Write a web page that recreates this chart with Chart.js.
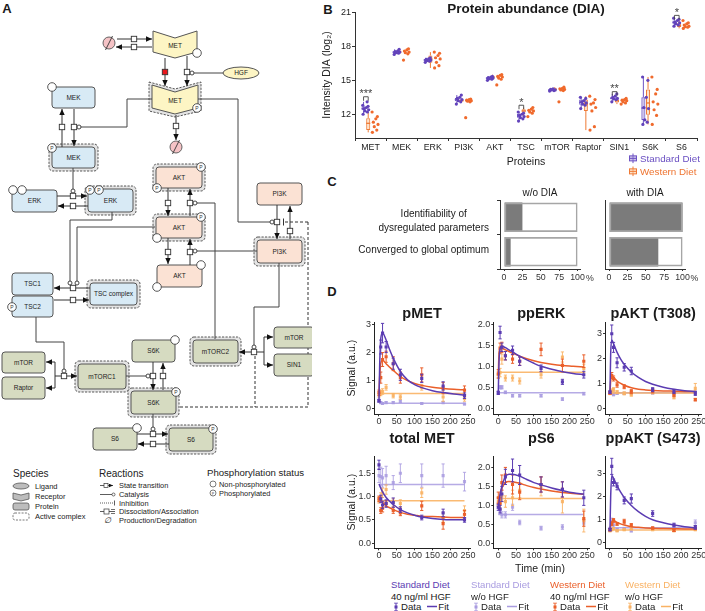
<!DOCTYPE html>
<html>
<head>
<meta charset="utf-8">
<script src="https://cdn.jsdelivr.net/npm/chart.js@4.4.0/dist/chart.umd.min.js"></script>
<style>
body { margin: 0; background: #fff; font-family: "Liberation Sans", Arial, sans-serif; }
#fig { position: relative; width: 705px; height: 611px; overflow: hidden; }
#fig canvas { position: absolute; }
.t { position: absolute; white-space: nowrap; color: #1a1a1a; line-height: 1.15; }
.pl { font-weight: bold; font-size: 13px; }
.dt { font-weight: bold; font-size: 14.5px; }
</style>
</head>
<body>
<div id="fig"></div>
<script>
// ---------------- B: protein abundance (log2 DIA intensity) ----------------
const proteins = ['MET', 'MEK', 'ERK', 'PI3K', 'AKT', 'TSC', 'mTOR', 'Raptor', 'SIN1', 'S6K', 'S6'];
const bTicks = [12, 15, 18, 21];
const sdQ1  = [12.35, 17.42, 16.72, 13.15, 15.12, 11.7, 14.1, 12.85, 13.32, 11.5, 20.0];
const sdMed = [12.5, 17.5, 16.8, 13.3, 15.2, 11.85, 14.15, 13.05, 13.4, 12.55, 20.12];
const sdQ3  = [12.7, 17.58, 16.88, 13.45, 15.28, 12.05, 14.2, 13.3, 13.55, 13.5, 20.3];
const sdLo  = [12.0, 17.3, 16.6, 12.9, 15.0, 11.4, 14.05, 12.5, 13.1, 11.1, 19.8];
const sdHi  = [13.1, 17.75, 17.0, 13.7, 15.35, 12.2, 14.25, 13.5, 13.8, 15.3, 20.5];
const wdQ1  = [10.6, 17.4, 16.55, 13.12, 15.15, 12.15, 14.12, 12.3, 13.05, 11.95, 19.72];
const wdMed = [11.2, 17.5, 16.9, 13.2, 15.3, 12.3, 14.2, 12.9, 13.2, 13.0, 19.85];
const wdQ3  = [11.65, 17.65, 17.2, 13.3, 15.4, 12.45, 14.3, 13.3, 13.3, 14.2, 20.05];
const wdLo  = [10.4, 17.35, 16.1, 13.1, 15.1, 11.8, 14.1, 10.6, 12.9, 11.1, 19.6];
const wdHi  = [12.2, 17.8, 17.5, 13.35, 15.5, 12.6, 14.4, 13.6, 13.4, 15.3, 20.3];
const sdPts = [
  [12.0, 12.2, 12.3, 12.4, 12.5, 12.6, 12.7, 12.8, 13.1],
  [17.3, 17.4, 17.45, 17.5, 17.55, 17.6, 17.75],
  [16.6, 16.7, 16.75, 16.8, 16.85, 16.9, 17.0],
  [12.9, 13.1, 13.2, 13.3, 13.4, 13.5, 13.7],
  [15.0, 15.1, 15.15, 15.2, 15.25, 15.3, 15.35],
  [11.4, 11.6, 11.7, 11.8, 11.9, 12.0, 12.1, 12.2],
  [14.05, 14.1, 14.15, 14.15, 14.2, 14.25],
  [12.5, 12.8, 12.9, 13.0, 13.1, 13.2, 13.4, 13.5],
  [13.1, 13.3, 13.35, 13.4, 13.5, 13.6, 13.8],
  [11.1, 11.3, 11.5, 12.5, 12.6, 13.5, 15.0, 15.3],
  [19.8, 19.9, 20.0, 20.1, 20.15, 20.3, 20.4, 20.5]
];
const wdPts = [
  [10.4, 10.6, 10.9, 11.1, 11.3, 11.6, 11.8, 12.2],
  [16.8, 17.35, 17.45, 17.5, 17.6, 17.7, 17.8],
  [16.1, 16.3, 16.6, 16.9, 17.0, 17.2, 17.4, 17.5],
  [11.7, 13.1, 13.15, 13.2, 13.25, 13.3, 13.35],
  [14.6, 15.1, 15.2, 15.3, 15.35, 15.45, 15.5],
  [11.8, 12.1, 12.2, 12.3, 12.35, 12.45, 12.6],
  [13.1, 14.1, 14.15, 14.2, 14.25, 14.3, 14.4],
  [10.6, 10.9, 12.3, 12.6, 12.9, 13.0, 13.3, 13.6],
  [12.9, 13.0, 13.1, 13.2, 13.25, 13.3, 13.4],
  [11.1, 11.9, 12.4, 12.9, 13.1, 13.8, 14.2, 15.3],
  [19.6, 19.7, 19.75, 19.8, 19.9, 20.0, 20.1, 20.3]
];
const sigStars = ['***', '', '', '', '', '*', '', '', '**', '', '*'];
const sigY     = [13.55, 0, 0, 0, 0, 12.8, 0, 0, 14.0, 0, 20.75];

// ---------------- C: parameter estimation summary (%) ----------------
const cRows = ['Identifiability of dysregulated parameters', 'Converged to global optimum'];
const cWithout = [25, 9];
const cWith = [100, 67];
const cTicks = [0, 25, 50, 75, 100];

// ---------------- D: time courses ----------------
const T = [0, 5, 10, 20, 40, 60, 120, 180, 240];
const fitT = [0, 2, 5, 10, 20, 30, 40, 60, 80, 100, 120, 150, 180, 210, 240];
const dXTicks = [0, 50, 100, 150, 200, 250];

const pMET_sd = [0.27, 2.2, 2.7, 2.2, 1.6, 1.2, 1.07, 0.8, 0.45];
const pMET_sdErr = [0.05, 0.25, 0.35, 0.2, 0.2, 0.2, 0.15, 0.15, 0.1];
const pMET_sdn = [0.25, 0.2, 0.17, 0.2, 0.2, 0.25, 0.17, 0.2, 0.15];
const pMET_sdnErr = [0.03, 0.03, 0.03, 0.03, 0.03, 0.05, 0.03, 0.03, 0.03];
const pMET_wd = [0.55, 1.1, 1.75, 1.85, 1.6, 1.1, 1.2, 0.72, 0.65];
const pMET_wdErr = [0.1, 0.2, 0.25, 0.2, 0.25, 0.2, 0.25, 0.2, 0.15];
const pMET_wdn = [0.5, 0.55, 0.6, 0.75, 0.45, 0.4, 0.75, 0.4, 0.35];
const pMET_wdnErr = [0.1, 0.1, 0.1, 0.1, 0.08, 0.08, 0.1, 0.15, 0.1];
const pMET_sdFit = [0.25, 1.6, 2.5, 2.7, 2.45, 2.1, 1.8, 1.32, 1.02, 0.85, 0.74, 0.63, 0.56, 0.51, 0.47];
const pMET_wdFit = [0.55, 1.15, 1.6, 1.72, 1.6, 1.47, 1.36, 1.14, 0.99, 0.89, 0.82, 0.75, 0.71, 0.68, 0.66];
const pMET_flat = [0.18, 0.53];

const ppERK_sd = [0.37, 1.8, 1.45, 1.25, 1.38, 1.12, 0.95, 0.63, 0.8];
const ppERK_sdErr = [0.04, 0.15, 0.1, 0.1, 0.1, 0.1, 0.08, 0.06, 0.08];
const ppERK_sdn = [0.37, 0.5, 0.5, 0.38, 0.3, 0.3, 0.3, 0.22, 0.35];
const ppERK_sdnErr = [0.03, 0.04, 0.04, 0.03, 0.03, 0.03, 0.03, 0.03, 0.03];
const ppERK_wd = [0.82, 1.43, 1.45, 1.25, 1.17, 1.12, 1.4, 1.02, 1.12];
const ppERK_wdErr = [0.1, 0.12, 0.12, 0.1, 0.1, 0.1, 0.15, 0.15, 0.15];
const ppERK_wdn = [0.8, 0.85, 1.17, 0.72, 0.72, 0.65, 0.8, 1.22, 0.95];
const ppERK_wdnErr = [0.08, 0.1, 0.12, 0.07, 0.07, 0.07, 0.08, 0.12, 0.1];
const ppERK_sdFit = [0.37, 1.1, 1.42, 1.48, 1.44, 1.39, 1.34, 1.24, 1.15, 1.07, 1.0, 0.93, 0.87, 0.83, 0.8];
const ppERK_wdFit = [0.82, 1.3, 1.44, 1.43, 1.39, 1.35, 1.31, 1.24, 1.18, 1.13, 1.09, 1.05, 1.02, 1.0, 0.98];
const ppERK_flat = [0.37, 0.86];

const pAKT_sd = [0.65, 3.0, 2.45, 1.83, 1.65, 1.5, 0.75, 0.68, 0.6];
const pAKT_sdErr = [0.05, 0.35, 0.2, 0.2, 0.15, 0.15, 0.08, 0.08, 0.08];
const pAKT_sdn = [0.65, 0.6, 0.55, 0.6, 0.6, 0.62, 0.62, 0.6, 0.65];
const pAKT_sdnErr = [0.04, 0.04, 0.04, 0.04, 0.04, 0.04, 0.04, 0.04, 0.04];
const pAKT_wd = [0.62, 1.32, 1.2, 0.95, 0.87, 0.67, 0.7, 0.55, 0.35];
const pAKT_wdErr = [0.05, 0.12, 0.1, 0.1, 0.08, 0.08, 0.08, 0.08, 0.05];
const pAKT_wdn = [0.6, 0.7, 0.75, 0.65, 0.6, 0.55, 0.65, 0.45, 0.8];
const pAKT_wdnErr = [0.05, 0.08, 0.08, 0.06, 0.06, 0.06, 0.07, 0.07, 0.2];
const pAKT_sdFit = [0.65, 2.2, 2.75, 2.6, 2.25, 1.98, 1.77, 1.46, 1.24, 1.08, 0.97, 0.85, 0.77, 0.71, 0.67];
const pAKT_wdFit = [0.62, 1.1, 1.32, 1.25, 1.1, 1.0, 0.93, 0.83, 0.77, 0.74, 0.72, 0.7, 0.69, 0.68, 0.68];
const pAKT_flat = [0.63, 0.62];

const tMET_sd = [1.68, 0.95, 0.82, 0.85, 0.87, 0.72, 0.55, 0.65, 0.5];
const tMET_sdErr = [0.1, 0.08, 0.08, 0.08, 0.1, 0.06, 0.05, 0.08, 0.05];
const tMET_sdn = [1.45, 1.43, 1.4, 1.45, 1.3, 1.5, 1.45, 1.45, 1.32];
const tMET_sdnErr = [0.15, 0.2, 0.2, 0.2, 0.15, 0.2, 0.25, 0.25, 0.2];
const tMET_wd = [0.95, 0.7, 0.75, 0.85, 0.7, 0.65, 0.8, 0.42, 0.62];
const tMET_wdErr = [0.06, 0.06, 0.08, 0.06, 0.06, 0.06, 0.1, 0.12, 0.08];
const tMET_wdn = [0.92, 1.0, 1.08, 1.15, 0.87, 0.85, 1.08, 0.55, 0.7];
const tMET_wdnErr = [0.06, 0.08, 0.1, 0.1, 0.08, 0.08, 0.1, 0.1, 0.1];
const tMET_sdFit = [1.27, 1.23, 1.18, 1.1, 0.98, 0.9, 0.83, 0.72, 0.65, 0.6, 0.56, 0.53, 0.51, 0.5, 0.5];
const tMET_wdFit = [1.0, 0.97, 0.93, 0.88, 0.8, 0.76, 0.72, 0.66, 0.62, 0.6, 0.58, 0.57, 0.56, 0.55, 0.55];
const tMET_flat = [1.26, 0.91];

const pS6_sd = [0.95, 0.9, 1.3, 1.75, 1.92, 1.8, 1.55, 1.42, 1.2];
const pS6_sdErr = [0.08, 0.1, 0.2, 0.2, 0.3, 0.25, 0.2, 0.2, 0.2];
const pS6_sdn = [1.0, 0.85, 0.75, 0.75, 0.95, 0.55, 0.4, 0.43, 0.55];
const pS6_sdnErr = [0.08, 0.08, 0.08, 0.08, 0.08, 0.06, 0.05, 0.06, 0.06];
const pS6_wd = [1.2, 1.05, 1.6, 1.8, 1.55, 1.35, 1.55, 1.42, 0.65];
const pS6_wdErr = [0.15, 0.15, 0.2, 0.2, 0.25, 0.2, 0.2, 0.2, 0.2];
const pS6_wdn = [1.1, 1.15, 1.25, 1.1, 1.2, 1.4, 1.5, 1.1, 0.6];
const pS6_wdnErr = [0.1, 0.1, 0.15, 0.15, 0.2, 0.2, 0.25, 0.3, 0.3];
const pS6_sdFit = [0.95, 1.08, 1.28, 1.5, 1.76, 1.82, 1.82, 1.77, 1.68, 1.6, 1.54, 1.46, 1.39, 1.33, 1.3];
const pS6_wdFit = [1.05, 1.15, 1.3, 1.45, 1.6, 1.63, 1.62, 1.58, 1.52, 1.47, 1.43, 1.38, 1.34, 1.31, 1.29];
const pS6_flat = [0.76, 1.18];

const ppAKT_sd = [0.55, 3.3, 2.6, 2.43, 1.82, 1.9, 1.25, 0.75, 0.65];
const ppAKT_sdErr = [0.05, 0.35, 0.15, 0.15, 0.15, 0.2, 0.12, 0.08, 0.08];
const ppAKT_sdn = [0.6, 0.9, 0.75, 0.55, 0.6, 0.5, 0.6, 0.65, 0.85];
const ppAKT_sdnErr = [0.05, 0.15, 0.1, 0.05, 0.05, 0.05, 0.05, 0.06, 0.12];
const ppAKT_wd = [0.55, 0.8, 0.95, 0.8, 0.9, 0.75, 0.62, 0.52, 0.6];
const ppAKT_wdErr = [0.05, 0.08, 0.08, 0.06, 0.1, 0.06, 0.05, 0.05, 0.05];
const ppAKT_wdn = [0.5, 0.55, 0.6, 0.5, 0.55, 0.6, 0.55, 0.5, 0.55];
const ppAKT_wdnErr = [0.04, 0.04, 0.04, 0.04, 0.04, 0.04, 0.04, 0.04, 0.04];
const ppAKT_sdFit = [0.55, 2.0, 2.9, 2.78, 2.45, 2.18, 1.95, 1.6, 1.33, 1.13, 0.98, 0.85, 0.75, 0.68, 0.63];
const ppAKT_wdFit = [0.55, 0.72, 0.88, 0.95, 0.86, 0.8, 0.75, 0.68, 0.65, 0.62, 0.61, 0.6, 0.59, 0.58, 0.58];
const ppAKT_flat = [0.63, 0.53];

const dPanels = [
  { title: 'pMET', col: 0, row: 0, yr: [-0.22, 3.1], yt: [0, 1, 2, 3], dec: 0,
    s: [pMET_sd, pMET_sdErr, pMET_sdn, pMET_sdnErr, pMET_wd, pMET_wdErr, pMET_wdn, pMET_wdnErr, pMET_sdFit, pMET_wdFit, pMET_flat] },
  { title: 'ppERK', col: 1, row: 0, yr: [-0.14, 2.05], yt: [0, 0.5, 1, 1.5, 2], dec: 1,
    s: [ppERK_sd, ppERK_sdErr, ppERK_sdn, ppERK_sdnErr, ppERK_wd, ppERK_wdErr, ppERK_wdn, ppERK_wdnErr, ppERK_sdFit, ppERK_wdFit, ppERK_flat] },
  { title: 'pAKT (T308)', col: 2, row: 0, yr: [-0.24, 3.47], yt: [0, 1, 2, 3], dec: 0,
    s: [pAKT_sd, pAKT_sdErr, pAKT_sdn, pAKT_sdnErr, pAKT_wd, pAKT_wdErr, pAKT_wdn, pAKT_wdnErr, pAKT_sdFit, pAKT_wdFit, pAKT_flat] },
  { title: 'total MET', col: 0, row: 1, yr: [-0.11, 1.87], yt: [0, 0.5, 1, 1.5], dec: 1,
    s: [tMET_sd, tMET_sdErr, tMET_sdn, tMET_sdnErr, tMET_wd, tMET_wdErr, tMET_wdn, tMET_wdnErr, tMET_sdFit, tMET_wdFit, tMET_flat] },
  { title: 'pS6', col: 1, row: 1, yr: [-0.13, 2.3], yt: [0, 0.5, 1, 1.5, 2], dec: 1,
    s: [pS6_sd, pS6_sdErr, pS6_sdn, pS6_sdnErr, pS6_wd, pS6_wdErr, pS6_wdn, pS6_wdnErr, pS6_sdFit, pS6_wdFit, pS6_flat] },
  { title: 'ppAKT (S473)', col: 2, row: 1, yr: [-0.26, 3.75], yt: [0, 1, 2, 3], dec: 0,
    s: [ppAKT_sd, ppAKT_sdErr, ppAKT_sdn, ppAKT_sdnErr, ppAKT_wd, ppAKT_wdErr, ppAKT_wdn, ppAKT_wdnErr, ppAKT_sdFit, ppAKT_wdFit, ppAKT_flat] }
];

// colours
const PUR = '#5b3cb2', PUR_L = '#a99ce0', ORA = '#ea5f2a', ORA_L = '#f9b264';

Chart.defaults.font.family = '"Liberation Sans", Arial, sans-serif';
Chart.defaults.color = '#333';
Chart.defaults.animation = false;
Chart.defaults.plugins.legend.display = false;
Chart.defaults.plugins.tooltip.enabled = false;

const fig = document.getElementById('fig');

function txt(x, y, html, css, anchor) {
  const d = document.createElement('div');
  d.className = 't';
  d.innerHTML = html;
  if (css) d.style.cssText = css;
  d.style.left = x + 'px';
  d.style.top = y + 'px';
  const tx = anchor === 'l' ? '0' : anchor === 'r' ? '-100%' : '-50%';
  d.style.transform = `translate(${tx},-50%)`;
  fig.appendChild(d);
  return d;
}

// canvas rect [left, top, w, h], plot area [left, top, right, bottom] in page px
function mkChart(rect, area, yW, xH, cfg) {
  const c = document.createElement('canvas');
  c.width = rect[2]; c.height = rect[3];
  c.style.left = rect[0] + 'px'; c.style.top = rect[1] + 'px';
  fig.appendChild(c);
  cfg.options.responsive = false;
  cfg.options.layout = { padding: {
    left: area[0] - rect[0] - yW, top: area[1] - rect[1],
    right: rect[0] + rect[2] - area[2], bottom: rect[1] + rect[3] - area[3] - xH } };
  return new Chart(c, cfg);
}
const fixW = w => s => { s.width = w; s.paddingTop = 0; s.paddingBottom = 0; };
const fixH = h => s => { s.height = h; s.paddingLeft = 0; s.paddingRight = 0; };
const axisGrid = len => ({ drawOnChartArea: false, tickLength: len, color: '#333', lineWidth: 1 });

// ---------- panel A: pathway diagram (static SVG) ----------
const YEL = '#fdf5c4', BLU = '#d8eaf5', SAL = '#fbe2d4', OLV = '#d6dbc1';
const A = [];
function box(x, y, w, h, fill, label, active) {
  if (active) A.push(`<rect x="${x - 3}" y="${y - 3}" width="${w + 6}" height="${h + 6}" rx="4" fill="#e4e4e4" stroke="#444" stroke-width="0.9" stroke-dasharray="2.2 1.3"/>`);
  A.push(`<rect x="${x}" y="${y}" width="${w}" height="${h}" rx="3" fill="${fill}" stroke="#555" stroke-width="1"/>`);
  A.push(`<text x="${x + w / 2}" y="${y + h / 2 + 2.3}" font-size="6.5" text-anchor="middle" fill="#222">${label}</text>`);
}
function receptor(x, y, w, h, label, active) {
  const p = d => `M${x - d},${y - d} L${x + w / 2},${y + 7 - d} L${x + w + d},${y - d} L${x + w + d},${y + h - 6 + d} L${x + w / 2},${y + h + d} L${x - d},${y + h - 6 + d} Z`;
  if (active) A.push(`<path d="${p(3)}" fill="#e4e4e4" stroke="#444" stroke-width="0.9" stroke-dasharray="2.2 1.3"/>`);
  A.push(`<path d="${p(0)}" fill="${YEL}" stroke="#555" stroke-width="1"/>`);
  A.push(`<text x="${x + w / 2}" y="${y + h / 2 + 3.5}" font-size="6.5" text-anchor="middle" fill="#222">${label}</text>`);
}
function ln(pts, o = {}) {
  const d = 'M' + pts.map(p => p.join(',')).join(' L');
  A.push(`<path d="${d}" fill="none" stroke="${o.c || '#333'}" stroke-width="${o.w || 1}"${o.dash ? ` stroke-dasharray="${o.dash}"` : ''}${o.arrow ? ' marker-end="url(#ah)"' : ''}/>`);
  if (o.cat) { const [cx, cy] = pts[pts.length - 1]; A.push(`<circle cx="${cx}" cy="${cy}" r="2" fill="#fff" stroke="#333" stroke-width="0.9"/>`); }
}
const sq = (x, y, f) => A.push(`<rect x="${x - 2.7}" y="${y - 2.7}" width="5.4" height="5.4" fill="${f || '#fff'}" stroke="#333" stroke-width="0.9"/>`);
const circ = (x, y) => A.push(`<circle cx="${x}" cy="${y}" r="4.3" fill="#fff" stroke="#444" stroke-width="0.9"/>`);
const pcirc = (x, y) => { circ(x, y); A.push(`<text x="${x}" y="${y + 1.8}" font-size="5" text-anchor="middle" fill="#333">P</text>`); };
const deg = (x, y) => A.push(`<circle cx="${x}" cy="${y}" r="6" fill="#f5c3c6" stroke="#555" stroke-width="0.9"/><line x1="${x - 3.5}" y1="${y + 7}" x2="${x + 3.5}" y2="${y - 7}" stroke="#333" stroke-width="0.9"/>`);

// dashed inhibition routes (behind)
ln([[308, 222], [308, 407], [178, 407]], { dash: '3 2' });
ln([[255, 356], [255, 407]], { dash: '3 2' });
ln([[308, 222], [284, 222]], { dash: '3 2' });
A.push('<line x1="283.5" y1="218.5" x2="283.5" y2="225.5" stroke="#333" stroke-width="1"/>');
// species
receptor(153, 31, 44, 27, 'MET', false);
receptor(152, 85, 46, 29, 'MET', true);
A.push(`<ellipse cx="241" cy="73" rx="18" ry="6" fill="${YEL}" stroke="#555"/><text x="241" y="75.3" font-size="6.5" text-anchor="middle" fill="#222">HGF</text>`);
box(52, 87, 43, 21, BLU, 'MEK'); box(52, 147, 43, 21, BLU, 'MEK', true);
box(12, 190, 45, 22, BLU, 'ERK'); box(88, 189, 45, 23, BLU, 'ERK', true);
box(156, 167, 46, 21, SAL, 'AKT', true); box(156, 217, 46, 21, SAL, 'AKT', true); box(157, 265, 45, 22, SAL, 'AKT');
box(257, 183, 45, 22, SAL, 'PI3K'); box(257, 240, 45, 23, SAL, 'PI3K', true);
box(12, 273, 41, 22, BLU, 'TSC1'); box(12, 296, 41, 21, BLU, 'TSC2'); box(90, 283, 47, 22, BLU, 'TSC complex', true);
box(2, 352, 43, 21, OLV, 'mTOR'); box(2, 377, 43, 22, OLV, 'Raptor'); box(78, 364, 48, 25, OLV, 'mTORC1', true);
box(132, 340, 43, 22, OLV, 'S6K'); box(131, 391, 45, 23, OLV, 'S6K', true);
box(93, 428, 44, 22, OLV, 'S6'); box(169, 428, 44, 23, OLV, 'S6', true);
box(193, 340, 45, 23, OLV, 'mTORC2', true); box(274, 327, 40, 21, OLV, 'mTOR'); box(274, 354, 40, 22, OLV, 'SIN1');
deg(109, 43); deg(176, 147);
// transitions
const arrows = [
  [[117, 39], [152, 39]], [[152, 47], [116, 47]], [[165, 58], [165, 86]], [[187, 56], [187, 86]], [[176, 115], [176, 140]],
  [[62, 147], [62, 109]], [[74, 109], [74, 146]], [[57, 196], [87, 196]], [[88, 206], [58, 206]],
  [[168, 188], [168, 216]], [[190, 216], [190, 189]], [[168, 238], [168, 264]], [[190, 265], [190, 239]],
  [[277, 205], [277, 239]], [[290, 239], [290, 206]], [[90, 288], [54, 288]], [[54, 300], [89, 300]],
  [[64, 376], [55, 376], [55, 362], [46, 362]], [[55, 376], [55, 388], [46, 388]], [[64, 376], [77, 376]],
  [[153, 362], [153, 390]], [[163, 390], [163, 363]], [[137, 434], [168, 434]], [[169, 444], [138, 444]],
  [[254, 352], [239, 352]], [[254, 352], [264, 352], [264, 337], [273, 337]], [[264, 352], [264, 365], [273, 365]]
];
arrows.forEach(p => ln(p, { arrow: true }));
// catalysis
const cats = [
  [[223, 73], [192, 73]], [[152, 99], [127, 99], [127, 127], [79, 127]], [[198, 99], [238, 99], [238, 222], [272, 222]],
  [[73, 168], [73, 191]], [[112, 212], [112, 220], [70, 220], [70, 283]], [[155, 227], [77, 227], [77, 283]],
  [[215, 339], [215, 203], [195, 203]], [[257, 251], [195, 251]], [[36, 317], [36, 342], [64, 342], [64, 371]],
  [[126, 376], [148, 376]], [[153, 414], [153, 429]], [[279, 263], [279, 307], [254, 307], [254, 347]]
];
cats.forEach(p => ln(p, { cat: true, c: '#444' }));
[[134, 39], [134, 47], [187, 72], [176, 126], [62, 127], [74, 127], [73, 196], [73, 206], [168, 203], [190, 203],
 [168, 252], [190, 252], [277, 222], [290, 231], [73, 288], [73, 300], [64, 376], [153, 376], [163, 376],
 [153, 434], [153, 444], [254, 352]].forEach(p => sq(p[0], p[1]));
sq(165, 72, '#e8161b');
circ(197, 53); pcirc(197, 108); circ(52, 87); pcirc(52, 148);
circ(13, 190); circ(22, 190); pcirc(90, 190); pcirc(99, 190);
pcirc(201, 167); pcirc(157, 188); pcirc(201, 217); circ(157, 238); circ(201, 265); circ(157, 287);
pcirc(12, 307); circ(175, 340); pcirc(176, 392); circ(137, 428); pcirc(213, 429);
// legend of A
A.push(`<text x="13" y="477" font-size="10" fill="#222">Species</text>`);
A.push(`<ellipse cx="21" cy="486" rx="8" ry="3" fill="#bdbdbd" stroke="#555" stroke-width="0.8"/>`);
A.push(`<path d="M13,493 L21,495 L29,493 L29,499 L21,501 L13,499 Z" fill="#bdbdbd" stroke="#555" stroke-width="0.8"/>`);
A.push(`<rect x="13" y="503" width="16" height="7" rx="2" fill="#bdbdbd" stroke="#555" stroke-width="0.8"/>`);
A.push(`<rect x="13" y="513" width="16" height="7" rx="2" fill="none" stroke="#555" stroke-width="0.8" stroke-dasharray="2 1.3"/>`);
[['Ligand', 489], ['Receptor', 499], ['Protein', 509], ['Active complex', 519]].forEach(([s, y]) =>
  A.push(`<text x="35" y="${y}" font-size="7.5" fill="#222">${s}</text>`));
A.push(`<text x="99" y="477" font-size="10" fill="#222">Reactions</text>`);
A.push(`<line x1="100" y1="485.5" x2="113" y2="485.5" stroke="#333" stroke-width="0.8" marker-end="url(#ahs)"/><rect x="104" y="483.5" width="4" height="4" fill="#fff" stroke="#333" stroke-width="0.7"/>`);
A.push(`<line x1="100" y1="494.5" x2="112" y2="494.5" stroke="#333" stroke-width="0.8"/><circle cx="113.5" cy="494.5" r="1.5" fill="#fff" stroke="#333" stroke-width="0.7"/>`);
A.push(`<line x1="100" y1="503" x2="114" y2="503" stroke="#333" stroke-width="0.8" stroke-dasharray="1 1"/><line x1="114.5" y1="500.5" x2="114.5" y2="505.5" stroke="#333" stroke-width="0.8"/>`);
A.push(`<line x1="100" y1="511.5" x2="115" y2="511.5" stroke="#333" stroke-width="0.8"/><rect x="104" y="509" width="5" height="5" fill="#fff" stroke="#333" stroke-width="0.7"/><line x1="111" y1="509.5" x2="115" y2="509.5" stroke="#333" stroke-width="0.7"/><line x1="111" y1="513.5" x2="115" y2="513.5" stroke="#333" stroke-width="0.7"/>`);
A.push(`<text x="104" y="523" font-size="8" font-style="italic" fill="#222">∅</text>`);
[['State transition', 488], ['Catalysis', 497], ['Inhibition', 505.5], ['Dissociation/Association', 514], ['Production/Degradation', 522.5]].forEach(([s, y]) =>
  A.push(`<text x="119" y="${y}" font-size="7.4" fill="#222">${s}</text>`));
A.push(`<text x="207" y="476" font-size="9.6" fill="#222">Phosphorylation status</text>`);
A.push(`<circle cx="213" cy="484" r="3" fill="#fff" stroke="#444" stroke-width="0.7"/><circle cx="213" cy="493" r="3" fill="#fff" stroke="#444" stroke-width="0.7"/><text x="213" y="494.5" font-size="3.6" text-anchor="middle" fill="#333">P</text>`);
A.push(`<text x="219" y="486.8" font-size="7.4" fill="#222">Non-phosphorylated</text><text x="219" y="495.8" font-size="7.4" fill="#222">Phosphorylated</text>`);

const svgA = document.createElement('div');
svgA.style.cssText = 'position:absolute;left:0;top:0;';
svgA.innerHTML = `<svg width="312" height="540" viewBox="0 0 312 540" font-family="Liberation Sans, Arial, sans-serif">
<defs><marker id="ah" viewBox="0 0 10 10" refX="10" refY="5" markerWidth="6" markerHeight="6" markerUnits="userSpaceOnUse" orient="auto"><path d="M0,0.5 L10,5 L0,9.5 Z" fill="#111"/></marker>
<marker id="ahs" viewBox="0 0 10 10" refX="10" refY="5" markerWidth="4" markerHeight="4" markerUnits="userSpaceOnUse" orient="auto"><path d="M0,0.5 L10,5 L0,9.5 Z" fill="#111"/></marker></defs>
${A.join('\n')}</svg>`;
fig.appendChild(svgA);

// panel letters
txt(7, 9, 'A', '', 'c').className += ' pl';
txt(328, 10, 'B', '', 'c').className += ' pl';
txt(332, 182, 'C', '', 'c').className += ' pl';
txt(332, 292, 'D', '', 'c').className += ' pl';

// ---------- panel B chart ----------
const jit = [-0.09, 0.05, -0.03, 0.09, -0.06, 0.02, 0.07, -0.1, 0.04];
const boxPlugin = {
  id: 'boxes',
  beforeDatasetsDraw(chart) {
    const ctx = chart.ctx, ys = chart.scales.y;
    chart.data.datasets.forEach((ds, di) => {
      if (!ds.stats) return;
      const meta = chart.getDatasetMeta(di);
      ctx.save(); ctx.strokeStyle = ds.borderColor; ctx.lineWidth = 1;
      meta.data.forEach((el, j) => {
        ctx.beginPath();
        ctx.moveTo(el.x, ys.getPixelForValue(ds.stats.hi[j])); ctx.lineTo(el.x, ys.getPixelForValue(ds.data[j][1]));
        ctx.moveTo(el.x, ys.getPixelForValue(ds.data[j][0])); ctx.lineTo(el.x, ys.getPixelForValue(ds.stats.lo[j]));
        ctx.stroke();
      });
      ctx.restore();
    });
  },
  afterDatasetDraw(chart, args) {
    const ds = chart.data.datasets[args.index];
    if (!ds.stats) return;
    const ctx = chart.ctx, ys = chart.scales.y;
    ctx.save(); ctx.strokeStyle = ds.borderColor; ctx.lineWidth = 1.3;
    args.meta.data.forEach((el, j) => {
      const y = ys.getPixelForValue(ds.stats.med[j]);
      ctx.beginPath(); ctx.moveTo(el.x - el.width / 2, y); ctx.lineTo(el.x + el.width / 2, y); ctx.stroke();
    });
    ctx.restore();
  },
  afterDatasetsDraw(chart) {
    const ctx = chart.ctx, ys = chart.scales.y;
    const m0 = chart.getDatasetMeta(0), m1 = chart.getDatasetMeta(1);
    ctx.save(); ctx.strokeStyle = '#444'; ctx.fillStyle = '#444'; ctx.lineWidth = 0.9;
    ctx.font = '11px "Liberation Sans", Arial, sans-serif'; ctx.textAlign = 'center'; ctx.textBaseline = 'bottom';
    sigStars.forEach((s, j) => {
      if (!s) return;
      const x1 = m0.data[j].x, x2 = m1.data[j].x, y = ys.getPixelForValue(sigY[j]);
      ctx.beginPath(); ctx.moveTo(x1, y + 4); ctx.lineTo(x1, y); ctx.lineTo(x2, y); ctx.lineTo(x2, y + 4); ctx.stroke();
      ctx.fillText(s, (x1 + x2) / 2, y + 3);
    });
    ctx.restore();
  }
};
const jitter = (pts, off) => pts.flatMap((arr, i) => arr.map((v, k) => ({ x: i + off + jit[k % jit.length], y: v })));

mkChart([310, 0, 395, 180], [355, 12, 697, 138], 45, 42, {
  type: 'bar',
  data: {
    labels: proteins,
    datasets: [
      { label: 'Standard Diet', data: proteins.map((p, i) => [sdQ1[i], sdQ3[i]]), stats: { lo: sdLo, hi: sdHi, med: sdMed },
        backgroundColor: 'rgba(160,142,216,0.55)', borderColor: '#6d53c3', borderWidth: 1, borderSkipped: false,
        categoryPercentage: 0.6, barPercentage: 0.87, order: 2 },
      { label: 'Western Diet', data: proteins.map((p, i) => [wdQ1[i], wdQ3[i]]), stats: { lo: wdLo, hi: wdHi, med: wdMed },
        backgroundColor: 'rgba(252,206,166,0.6)', borderColor: '#ef7a35', borderWidth: 1, borderSkipped: false,
        categoryPercentage: 0.6, barPercentage: 0.87, order: 2 },
      { type: 'scatter', data: jitter(sdPts, -0.15), xAxisID: 'xj', backgroundColor: '#6243bb', pointRadius: 1.6, borderWidth: 0, order: 1 },
      { type: 'scatter', data: jitter(wdPts, 0.15), xAxisID: 'xj', backgroundColor: '#f06a2c', pointRadius: 1.6, borderWidth: 0, order: 1 }
    ]
  },
  options: {
    scales: {
      x: { offset: true, grid: axisGrid(3), border: { color: '#333' },
           ticks: { font: { size: 8.8 }, color: '#222', padding: 1, maxRotation: 0, autoSkip: false },
           title: { display: true, text: 'Proteins', font: { size: 10.5 }, color: '#222', padding: { top: 0, bottom: 12 } },
           afterFit: fixH(42) },
      xj: { type: 'linear', display: false, offset: false, grid: { offset: false }, min: -0.5, max: 10.5 },
      y: { min: 9.9, max: 21.05, grid: axisGrid(3), border: { color: '#333' },
           afterBuildTicks: s => { s.ticks = bTicks.map(v => ({ value: v })); },
           ticks: { font: { size: 9 }, color: '#222', padding: 1 },
           title: { display: true, text: 'Intensity DIA (log\u2082)', font: { size: 10.5 }, color: '#222', padding: { top: 11, bottom: 0 } },
           afterFit: fixW(45) }
    }
  },
  plugins: [boxPlugin]
});
txt(526, 9, 'Protein abundance (DIA)', 'font-weight:bold;font-size:13.5px;', 'c');
const boxIcon = (f, s) => `<svg width="8" height="10" style="vertical-align:-1px;margin-right:3px"><line x1="4" y1="0" x2="4" y2="10" stroke="${s}"/><rect x="0.5" y="2.5" width="7" height="5" fill="${f}" stroke="${s}"/><line x1="0.5" y1="5" x2="7.5" y2="5" stroke="${s}"/></svg>`;
txt(629, 159, boxIcon('rgba(160,142,216,0.55)', '#6d53c3') + 'Standard Diet', 'font-size:9.8px;color:#6a4fc2;', 'l');
txt(629, 171.5, boxIcon('rgba(252,206,166,0.6)', '#ef7a35') + 'Western Diet', 'font-size:9.8px;color:#ee7430;', 'l');

// ---------- panel C charts ----------
function cChart(rect, area, yW, vals, showTicks) {
  return mkChart(rect, area, yW, 14, {
    type: 'bar',
    data: {
      labels: cRows,
      datasets: [
        { data: vals, backgroundColor: '#7b7b7b', grouped: false, order: 1, categoryPercentage: 1, barPercentage: 0.85 },
        { data: cRows.map(() => 100), backgroundColor: 'rgba(0,0,0,0)', borderColor: '#a6a6a6', borderWidth: 1.6,
          borderSkipped: false, grouped: false, order: 0, categoryPercentage: 1, barPercentage: 0.85 }
      ]
    },
    options: {
      indexAxis: 'y',
      scales: {
        x: { min: -5.5, max: 104, grid: axisGrid(2), border: { color: '#333' },
             afterBuildTicks: s => { s.ticks = cTicks.map(v => ({ value: v })); },
             ticks: { font: { size: 8.8 }, color: '#333', padding: 1, maxRotation: 0, autoSkip: false },
             afterFit: fixH(14) },
        y: { grid: { drawOnChartArea: false, drawTicks: showTicks, tickLength: 3, color: '#333' }, border: { color: '#333' },
             ticks: { display: false }, afterFit: fixW(yW) }
      }
    }
  });
}
cChart([310, 185, 288, 100], [500, 200, 580.5, 269], 3, cWithout, true);
cChart([598, 185, 107, 100], [605, 200, 685.5, 269], 0, cWith, false);
txt(586, 277.5, '%', 'font-size:8.8px;color:#333;', 'l');
txt(690.5, 277.5, '%', 'font-size:8.8px;color:#333;', 'l');
txt(540, 193, 'w/o DIA', 'font-size:10px;', 'c');
txt(645, 193, 'with DIA', 'font-size:10px;', 'c');
txt(489, 220, 'Identifiability of<br>dysregulated parameters', 'font-size:10px;text-align:center;line-height:13.5px;', 'r');
txt(489, 250, 'Converged to global optimum', 'font-size:10px;', 'r');

// ---------- panel D charts ----------
const errPlugin = {
  id: 'errbars',
  beforeDatasetDraw(chart, args) {
    const ds = chart.data.datasets[args.index];
    if (!ds.errs) return;
    const ctx = chart.ctx, ys = chart.scales.y;
    ctx.save(); ctx.strokeStyle = ds.backgroundColor; ctx.lineWidth = 1;
    args.meta.data.forEach((el, i) => {
      const v = ds.data[i].y, e = ds.errs[i];
      const y1 = ys.getPixelForValue(v - e), y2 = ys.getPixelForValue(v + e);
      ctx.beginPath();
      ctx.moveTo(el.x, y1); ctx.lineTo(el.x, y2);
      ctx.moveTo(el.x - 1.6, y1); ctx.lineTo(el.x + 1.6, y1);
      ctx.moveTo(el.x - 1.6, y2); ctx.lineTo(el.x + 1.6, y2);
      ctx.stroke();
    });
    ctx.restore();
  }
};
function series(vals, errs, fit, flat, color, order) {
  const pts = { type: 'scatter', data: T.map((t, i) => ({ x: t, y: vals[i] })), errs,
                backgroundColor: color, pointStyle: 'rect', pointRadius: 2.2, borderWidth: 0, order };
  const line = { type: 'line', data: fit ? fitT.map((t, i) => ({ x: t, y: fit[i] })) : [{ x: 0, y: flat }, { x: 240, y: flat }],
                 borderColor: color, borderWidth: 1.5, pointRadius: 0, fill: false,
                 cubicInterpolationMode: 'monotone', order: order + 1 };
  return [pts, line];
}
const colA = [[374, 470.2], [493.3, 589.5], [605, 701.2]];
const rowA = [[322, 414.3], [456, 548.3]];
const colR = [[340, 136], [466, 129], [578, 127]];
const rowR = [[316, 116], [450, 116]];
dPanels.forEach(p => {
  const [sd, sdE, sdn, sdnE, wd, wdE, wdn, wdnE, sdF, wdF, flat] = p.s;
  const yW = p.col === 0 ? 34 : 24;
  mkChart([colR[p.col][0], rowR[p.row][0], colR[p.col][1], rowR[p.row][1]],
          [colA[p.col][0], rowA[p.row][0], colA[p.col][1], rowA[p.row][1]], yW, 16, {
    type: 'scatter',
    data: { datasets: [
      ...series(sdn, sdnE, null, flat[0], 'rgba(169,156,224,0.85)', 7),
      ...series(wdn, wdnE, null, flat[1], 'rgba(249,178,100,0.9)', 5),
      ...series(wd, wdE, wdF, null, ORA, 3),
      ...series(sd, sdE, sdF, null, PUR, 1)
    ] },
    options: {
      scales: {
        x: { type: 'linear', min: -14, max: 256, grid: axisGrid(2), border: { color: '#222' },
             afterBuildTicks: s => { s.ticks = dXTicks.map(v => ({ value: v })); },
             ticks: { font: { size: 9 }, color: '#333', padding: 0, maxRotation: 0, autoSkip: false },
             afterFit: fixH(16) },
        y: { type: 'linear', min: p.yr[0], max: p.yr[1], grid: axisGrid(2), border: { color: '#222' },
             afterBuildTicks: s => { s.ticks = p.yt.map(v => ({ value: v })); },
             ticks: { font: { size: 9 }, color: '#333', padding: 1, autoSkip: false, callback: v => v.toFixed(p.dec) },
             title: { display: p.col === 0, text: 'Signal (a.u.)', font: { size: 10.5 }, color: '#222', padding: { top: 6, bottom: 0 } },
             afterFit: fixW(yW) }
      }
    },
    plugins: [errPlugin]
  });
  txt((colA[p.col][0] + colA[p.col][1]) / 2, p.row === 0 ? 313 : 438, p.title, '', 'c').className += ' dt';
});
txt(540, 568, 'Time (min)', 'font-size:10.5px;', 'c');

// legend of D
const ebIcon = c => `<svg width="6" height="9" style="vertical-align:-1px;margin-right:2px"><line x1="3" y1="0.5" x2="3" y2="8.5" stroke="${c}"/><line x1="1" y1="0.5" x2="5" y2="0.5" stroke="${c}"/><line x1="1" y1="8.5" x2="5" y2="8.5" stroke="${c}"/><rect x="1.5" y="3" width="3" height="3" fill="${c}"/></svg>`;
const lnIcon = c => `<svg width="10" height="6" style="vertical-align:1px;margin:0 1px 0 6px"><line x1="0" y1="3" x2="10" y2="3" stroke="${c}" stroke-width="1.6"/></svg>`;
[[391, 'Standard Diet', '40 ng/ml HGF', '#5b3cb2'], [471, 'Standard Diet', 'w/o HGF', '#a99ce0'],
 [550, 'Western Diet', '40 ng/ml HGF', '#ea5f2a'], [625, 'Western Diet', 'w/o HGF', '#f9b264']].forEach(([x, a, b, c]) => {
  txt(x, 585, a, `font-size:9.6px;color:${c};`, 'l');
  txt(x, 596.5, b, 'font-size:9.6px;', 'l');
  txt(x + 2, 607, ebIcon(c) + 'Data' + lnIcon(c) + 'Fit', 'font-size:9.6px;', 'l');
});
</script>
</body>
</html>
